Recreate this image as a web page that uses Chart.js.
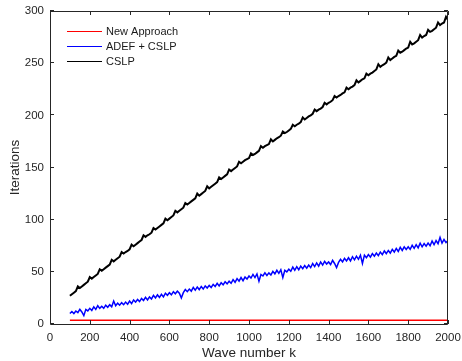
<!DOCTYPE html>
<html>
<head>
<meta charset="utf-8">
<title>Iterations vs wave number</title>
<script src="https://cdn.jsdelivr.net/npm/chart.js@4.4.1/dist/chart.umd.min.js"></script>
<style>
  html, body { margin: 0; padding: 0; background: #fff; }
  #wrap { width: 462px; height: 361px; position: relative; }
</style>
</head>
<body>
<div id="wrap"><canvas id="iterChart"></canvas></div>
<script>
// wave numbers k = 100, 110, ..., 2000 (sample grid of the two dense series)
const waveNumbers = Array.from({ length: 191 }, (_, i) => 100 + i * 10);

const cslpIterations = [
  27, 28.5, 30, 31.5, 36, 34.5, 36, 37.5, 39, 40.5,
  45, 43.5, 45, 46.5, 48, 52.5, 51, 52.5, 54, 55.5,
  57, 61.5, 60, 61.5, 63, 64.5, 69, 67.5, 69, 70,
  71.5, 76, 74.5, 76, 77.5, 79, 80.5, 85, 83.5, 85,
  86, 87.5, 92, 90.5, 92, 93.5, 95, 96.5, 101, 99.5,
  101, 102.5, 104, 108.5, 107, 108.5, 110, 111.5, 116, 114.5,
  116, 117.5, 119, 120.5, 125, 123, 124.5, 126, 127.5, 132,
  130, 131.5, 133, 134.5, 136, 140.5, 139, 140.5, 142, 143.5,
  148, 146.5, 148, 149.5, 151, 155.5, 154, 155.5, 157, 158,
  159, 163.5, 162, 163, 164.5, 166, 170.5, 169, 170.5, 171.5,
  172.5, 177, 175, 176.5, 178, 179, 180.5, 184.5, 183, 184,
  185.5, 187, 191, 189.5, 191, 192, 193.5, 198, 196, 197.5,
  199, 200, 201.5, 205.5, 204, 205.5, 206.5, 208, 212, 210.5,
  212, 213, 214.5, 218.5, 217, 218.5, 219.5, 221, 222, 226.5,
  225, 226.5, 227.5, 229, 233.5, 231.5, 233, 234.5, 235.5, 240,
  238.5, 240, 241, 242.5, 244, 249, 246.5, 248, 249, 250.5,
  255.5, 253, 254.5, 256, 257, 262, 260, 261, 262.5, 264,
  265, 270.5, 268, 269, 270.5, 272, 277, 274.5, 276, 277,
  282, 280, 281, 282.5, 284, 289, 286.5, 288, 289, 294.5, 291.5
];

const adefIterations = [
  10, 12, 10, 12.5, 11, 14, 11.5, 8, 14, 12.5,
  15, 13, 16.5, 14, 17.5, 15, 17, 15, 18, 16,
  18.5, 16.5, 22, 17.5, 20, 18, 20.5, 18.5, 21, 19,
  22, 19.5, 23, 21, 23.5, 21.5, 24.5, 22.5, 25.5, 23,
  26, 24, 27.5, 25, 28, 25.5, 28.5, 26, 29.5, 27.5,
  30, 28, 31, 29, 31.5, 29.5, 25, 30, 33, 31,
  33.5, 31.5, 35, 32.5, 35.5, 33, 36, 33.5, 36.5, 34.5,
  37, 35, 38, 36, 39, 36.5, 39.5, 37.5, 40.5, 38.5,
  41, 39, 42.5, 40, 43.5, 41, 44.5, 41.5, 45, 43,
  46, 44, 47.5, 44.5, 48, 41, 47.5, 46, 49, 46.5,
  49, 47, 50.5, 48, 51.5, 48.5, 52, 44.5, 51.5, 50,
  52.5, 50.5, 54.5, 51.5, 55, 52, 55.5, 53, 56, 53.5,
  56.5, 54, 58, 55, 58.5, 55.5, 59.5, 56.5, 60, 57.5,
  59.5, 57, 61, 58, 54, 59, 62, 59.5, 63, 60.5,
  63.5, 60.5, 64.5, 61.5, 65, 62, 66, 58, 66, 63.5,
  66.5, 64, 67.5, 65, 68, 65.5, 69, 66.5, 70, 67.5,
  70.5, 68, 71.5, 69, 72.5, 69.5, 73.5, 70.5, 74, 71.5,
  74, 71.5, 75.5, 72.5, 76, 73, 77.5, 74, 77, 74.5,
  77.5, 75, 79.5, 76, 80, 77, 83, 77.5, 81, 78, 80
];

// the red series is flat, read every 100
const newApproachK = [100, 200, 300, 400, 500, 600, 700, 800, 900, 1000,
  1100, 1200, 1300, 1400, 1500, 1600, 1700, 1800, 1900, 2000];
const newApproachIterations = [3.5, 3.5, 3.5, 3.5, 3.5, 3.5, 3.5, 3.5, 3.5, 3.5,
  3.5, 3.5, 3.5, 3.5, 3.5, 3.5, 3.5, 3.5, 3.5, 3.5];

const seriesLabels = ["New Approach", "ADEF + CSLP", "CSLP"];
const seriesColors = ["#ff0000", "#0000ff", "#000000"];

const xTicks = [0, 200, 400, 600, 800, 1000, 1200, 1400, 1600, 1800, 2000];
const yTicks = [0, 50, 100, 150, 200, 250, 300];

const axisColor = "#262626";
const fontFamily = "'Liberation Sans', Arial, Helvetica, sans-serif";

const toPoints = (xs, ys) => xs.map((x, i) => ({ x: x, y: ys[i] }));

// MATLAB style box with inward ticks on all four sides
const boxTicks = {
  id: "boxTicks",
  afterDatasetsDraw(chart) {
    const { ctx, chartArea: a, scales } = chart;
    const len = 4;
    ctx.save();
    ctx.strokeStyle = axisColor;
    ctx.lineWidth = 1;
    ctx.beginPath();
    xTicks.forEach((v) => {
      const px = Math.round(scales.x.getPixelForValue(v)) + 0.5;
      ctx.moveTo(px, a.bottom);
      ctx.lineTo(px, a.bottom - len);
      ctx.moveTo(px, a.top);
      ctx.lineTo(px, a.top + len);
    });
    yTicks.forEach((v) => {
      const py = Math.round(scales.y.getPixelForValue(v)) - 0.5;
      ctx.moveTo(a.left, py);
      ctx.lineTo(a.left + len, py);
      ctx.moveTo(a.right, py);
      ctx.lineTo(a.right - len, py);
    });
    ctx.rect(a.left + 0.5, a.top + 0.5, a.right - a.left - 1, a.bottom - a.top);
    ctx.stroke();
    ctx.restore();
  },
};

// legend without a box, lines + labels in the upper left corner
const lineLegend = {
  id: "lineLegend",
  afterDraw(chart) {
    const { ctx, chartArea: a } = chart;
    ctx.save();
    ctx.font = "11px " + fontFamily;
    ctx.textBaseline = "middle";
    ctx.textAlign = "left";
    seriesLabels.forEach((label, i) => {
      const y = Math.round(a.top + 21 + i * 15) - 0.5;
      const x0 = a.left + 17;
      ctx.strokeStyle = seriesColors[i];
      ctx.lineWidth = 1;
      ctx.beginPath();
      ctx.moveTo(x0, y);
      ctx.lineTo(x0 + 35, y);
      ctx.stroke();
      ctx.fillStyle = "#1a1a1a";
      ctx.fillText(label, x0 + 39, y + 0.5);
    });
    ctx.restore();
  },
};

const ctx = document.getElementById("iterChart").getContext("2d");

new Chart(ctx, {
  type: "line",
  data: {
    datasets: [
      {
        label: seriesLabels[0],
        data: toPoints(newApproachK, newApproachIterations),
        borderColor: seriesColors[0],
        borderWidth: 1.5,
      },
      {
        label: seriesLabels[1],
        data: toPoints(waveNumbers, adefIterations),
        borderColor: seriesColors[1],
        borderWidth: 1.5,
      },
      {
        label: seriesLabels[2],
        data: toPoints(waveNumbers, cslpIterations),
        borderColor: seriesColors[2],
        borderWidth: 2,
      },
    ],
  },
  options: {
    responsive: true,
    maintainAspectRatio: false,
    animation: false,
    events: [],
    elements: {
      point: { radius: 0 },
      line: { tension: 0, fill: false },
    },
    layout: { padding: { left: 0, right: 14, top: 11, bottom: 0 } },
    plugins: {
      legend: { display: false },
      tooltip: { enabled: false },
    },
    scales: {
      x: {
        type: "linear",
        min: 0,
        max: 2000,
        afterBuildTicks: (scale) => {
          scale.ticks = xTicks.map((v) => ({ value: v }));
        },
        afterFit: (scale) => {
          scale.height = 37;
          // the end labels fit inside the layout padding, no extra room
          scale.paddingLeft = 0;
          scale.paddingRight = 0;
        },
        grid: { display: false, drawTicks: false },
        border: { display: false },
        ticks: {
          color: axisColor,
          padding: 7,
          maxRotation: 0,
          autoSkip: false,
          callback: (value) => String(value),
          font: { family: fontFamily, size: 11.5 },
        },
        title: {
          display: true,
          text: "Wave number k",
          color: axisColor,
          padding: { top: 0, bottom: 0 },
          font: { family: fontFamily, size: 13.5 },
        },
      },
      y: {
        type: "linear",
        min: 0,
        max: 300,
        afterBuildTicks: (scale) => {
          scale.ticks = yTicks.map((v) => ({ value: v }));
        },
        afterFit: (scale) => {
          scale.width = 50;
          scale.paddingTop = 0;
          scale.paddingBottom = 0;
        },
        grid: { display: false, drawTicks: false },
        border: { display: false },
        ticks: {
          color: axisColor,
          padding: 6,
          autoSkip: false,
          callback: (value) => String(value),
          font: { family: fontFamily, size: 11.5 },
        },
        title: {
          display: true,
          text: "Iterations",
          color: axisColor,
          padding: { top: 7, bottom: 0 },
          font: { family: fontFamily, size: 13.5 },
        },
      },
    },
  },
  plugins: [boxTicks, lineLegend],
});
</script>
</body>
</html>
